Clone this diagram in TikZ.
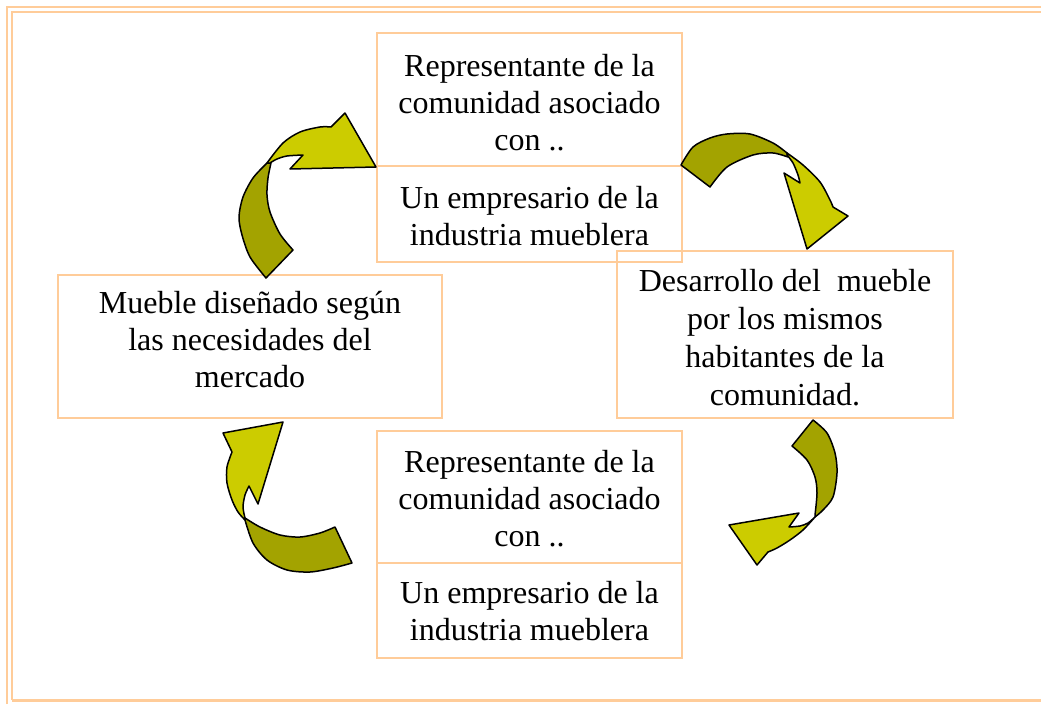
\documentclass[tikz,border=0pt]{standalone}
\usepackage{fontspec}
\setmainfont{Liberation Serif}
\definecolor{peach}{HTML}{FFCC99}
\definecolor{olivedark}{HTML}{A3A300}
\definecolor{olivelight}{HTML}{CCCC00}
\begin{document}
\begin{tikzpicture}[x=1pt,y=-1pt,
  pageline/.style={draw=peach,line width=2pt},
  tbox/.style={draw=peach,line width=2pt,inner sep=0pt},
  ttext/.style={inner sep=0pt,align=center,font=\fontsize{32}{37}\selectfont},
  darkarr/.style={fill=olivedark,draw=black,line width=1.5pt,line join=round},
  lightarr/.style={fill=olivelight,draw=black,line width=1.5pt,line join=round}]
\useasboundingbox (0,0) rectangle (1041,704);
\fill[white] (0,0) rectangle (1041,704);
% page border
\draw[pageline] (7,704) -- (7,7) -- (1041,7);
\draw[pageline] (12,700) -- (12,12) -- (1041,12);
\draw[pageline,line width=3pt] (12,700) -- (1041,700);
% boxes
\node[tbox,minimum width=305pt,minimum height=133pt] (topA) at (529.5,99.5) {};
\node[tbox,minimum width=305pt,minimum height=96pt] (topB) at (529.5,214) {};
\node[tbox,minimum width=384pt,minimum height=143pt] (left) at (250,346.5) {};
\node[tbox,minimum width=336pt,minimum height=167pt] (right) at (785,334.5) {};
\node[tbox,minimum width=305pt,minimum height=132pt] (botA) at (529.5,497) {};
\node[tbox,minimum width=305pt,minimum height=95pt] (botB) at (529.5,610.5) {};
% texts
\node[ttext] (topAt) at ([yshift=-3.5pt]topA.center) {Representante de la\\comunidad asociado\\con ..};
\node[ttext] (topBt) at ([yshift=-2pt]topB.center) {Un empresario de la\\industria mueblera};
\node[ttext] (leftt) at ([yshift=6.5pt]left.center) {Mueble diseñado según\\las necesidades del\\mercado};
\node[ttext,font=\fontsize{32}{38}\selectfont] (rightt) at ([yshift=-3.5pt]right.center) {Desarrollo del~ mueble\\por los mismos\\habitantes de la\\comunidad.};
\node[ttext] (botAt) at ([yshift=-1.5pt]botA.center) {Representante de la\\comunidad asociado\\con ..};
\node[ttext] (botBt) at ([yshift=-1pt]botB.center) {Un empresario de la\\industria mueblera};
% arrow 1 (left box -> top box)
\filldraw[darkarr] plot[smooth] coordinates {(267,163) (253,178) (243,197) (239,217) (242,235) (250,257) (266,278)}
  -- (293,250)
  -- plot[smooth] coordinates {(293,250) (280,234) (270,212) (267,195) (268,178) (271,163)} -- cycle;
\filldraw[lightarr] plot[smooth] coordinates {(267,163) (283,143) (300,132) (320,127) (331,127)}
  -- (345,113) -- (376,167) -- (290,169) -- (303,155)
  -- plot[smooth] coordinates {(303,155) (287,156) (277,159) (270,163)} -- cycle;
% arrow 2 (top box -> right box)
\filldraw[darkarr] plot[smooth] coordinates {(681,165) (693,147) (710,138) (727,134) (750,134) (773,143) (787,153)}
  -- plot[smooth] coordinates {(788,157) (773,153) (753,155) (727,167) (710,187)} -- cycle;
\filldraw[lightarr] plot[smooth] coordinates {(787,153) (803,165) (820,182) (830,200) (833,207)}
  -- (848,216) -- (807,249) -- (784,173) -- (800,183)
  -- plot[smooth] coordinates {(800,183) (798,175) (793,163) (787,155)} -- cycle;
% arrow 3 (right box -> bottom box)
\filldraw[darkarr] plot[smooth] coordinates {(813,420) (827,433) (835,453) (837,473) (833,497) (823,510) (815,517)}
  -- plot[smooth] coordinates {(815,515) (817,493) (815,477) (807,460) (792,446)} -- cycle;
\filldraw[lightarr] plot[smooth] coordinates {(815,517) (803,530) (790,540) (777,548) (768,552)}
  -- (757,565) -- (729,525) -- (799,513) -- (789,527)
  -- plot[smooth] coordinates {(789,527) (800,526) (808,523) (815,517)} -- cycle;
% arrow 4 (bottom box -> left box)
\filldraw[darkarr] plot[smooth] coordinates {(245,520) (253,543) (267,560) (287,570) (310,572) (333,568) (352,563)}
  -- (335,527)
  -- plot[smooth] coordinates {(335,527) (320,533) (300,537) (280,535) (260,527) (245,518)} -- cycle;
\filldraw[lightarr] (283,422) -- (223,433) -- (232,452)
  -- plot[smooth] coordinates {(232,452) (227,467) (227,483) (232,500) (238,512) (245,520)}
  -- plot[smooth] coordinates {(245,518) (243,507) (245,495) (249,486)}
  -- (258,504) -- cycle;
\end{tikzpicture}
\end{document}
